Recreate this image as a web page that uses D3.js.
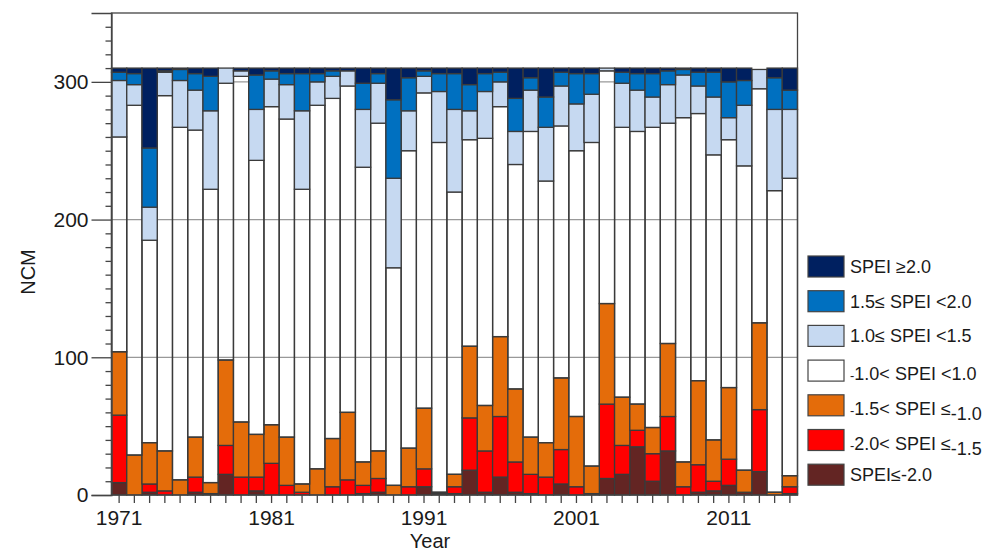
<!DOCTYPE html>
<html>
<head>
<meta charset="utf-8">
<script src="https://cdn.jsdelivr.net/npm/d3@7"></script>
<style>
  html, body { margin: 0; padding: 0; background: #fff; }
  svg { display: block; font-family: "Liberation Sans", Arial, sans-serif; }
</style>
</head>
<body>
<div id="chart"></div>
<script>
// categories
const years = [
  "1971","1972","1973","1974","1975","1976","1977","1978","1979","1980",
  "1981","1982","1983","1984","1985","1986","1987","1988","1989","1990",
  "1991","1992","1993","1994","1995","1996","1997","1998","1999","2000",
  "2001","2002","2003","2004","2005","2006","2007","2008","2009","2010",
  "2011","2012","2013","2014","2015",
];

// number of stations per SPEI class (bottom to top of the stack)
const extremeDry = [9,0,2,0,0,2,1,15,0,3, 0,0,0,0,0,0,1,2,0,0, 6,1,1,18,2,13,2,1,0,8, 0,1,12,15,35,10,32,0,2,3, 7,2,17,0,1];
const severeDry = [49,0,6,3,0,11,0,21,13,10, 23,7,2,0,6,11,6,10,0,6, 13,0,5,38,30,44,22,14,13,25, 6,0,54,21,12,20,25,6,20,7, 19,0,45,0,5];
const moderateDry = [46,29,30,29,11,29,8,62,40,31, 28,35,6,19,35,49,17,20,7,28, 44,1,9,52,33,58,53,27,25,52, 51,20,73,35,19,19,53,18,61,30, 52,16,63,2,8];
const normal = [156,254,147,258,256,223,213,201,251,199, 231,231,214,264,247,237,214,238,158,216, 229,254,205,150,194,167,163,222,190,183, 193,235,169,196,198,218,160,250,194,207, 180,221,170,219,216];
const moderateWet = [41,15,24,17,34,29,57,11,4,37, 20,25,57,17,16,11,42,29,65,29, 12,37,60,21,34,18,24,30,39,29, 34,35,2,32,30,22,28,31,20,42, 16,44,14,59,50];
const severeWet = [6,8,43,1,8,12,25,0,0,25, 6,8,27,6,4,0,19,7,57,24, 4,13,26,19,13,7,24,9,22,10, 22,15,0,8,12,17,10,4,10,18, 26,18,0,23,14];
const extremeWet = [3,4,58,2,1,4,6,0,2,5, 2,4,4,4,2,2,11,4,23,7, 2,4,4,12,4,3,22,7,21,3, 4,4,0,3,4,4,2,1,3,3, 10,9,0,7,16];

// ticks
const yTicks = [0, 100, 200, 300];
const xLabels = ["1971", "1981", "1991", "2001", "2011"];

// legend, top to bottom ("low" = small dropped minus, "sub" = subscript)
const keys = ["extremeDry", "severeDry", "moderateDry", "normal", "moderateWet", "severeWet", "extremeWet"];
const colors = {
  extremeWet: "#002060",
  severeWet: "#0070c0",
  moderateWet: "#c6d9f1",
  normal: "none",
  moderateDry: "#e46c0a",
  severeDry: "#ff0000",
  extremeDry: "#632523",
};
const legendLabels = [
  ["extremeWet", [["SPEI ≥2.0"]]],
  ["severeWet", [["1.5≤ SPEI <2.0"]]],
  ["moderateWet", [["1.0≤ SPEI <1.5"]]],
  ["normal", [["-", "low"], ["1.0< SPEI <1.0"]]],
  ["moderateDry", [["-", "low"], ["1.5< SPEI ≤"], ["-1.0", "sub"]]],
  ["severeDry", [["-", "low"], ["2.0< SPEI ≤"], ["-1.5", "sub"]]],
  ["extremeDry", [["SPEI≤-2.0"]]],
];

const width = 990;
const height = 551;
const plot = { left: 111.5, right: 797.5, top: 13, bottom: 495 };

const series = { extremeDry, severeDry, moderateDry, normal, moderateWet, severeWet, extremeWet };
const rows = years.map((year, i) => {
  const row = { year };
  keys.forEach((k) => (row[k] = series[k][i]));
  return row;
});

const svg = d3
  .select("#chart")
  .append("svg")
  .attr("width", width)
  .attr("height", height);

const x = d3.scaleBand().domain(years).range([plot.left, plot.right]).padding(0);
const y = d3.scaleLinear().domain([0, 350]).range([plot.bottom, plot.top]);

// gridlines (show through the transparent "normal" class)
svg
  .append("g")
  .selectAll("line")
  .data(yTicks.filter((d) => d > 0))
  .join("line")
  .attr("x1", plot.left)
  .attr("x2", plot.right)
  .attr("y1", (d) => y(d))
  .attr("y2", (d) => y(d))
  .attr("stroke", "#999")
  .attr("stroke-width", 1.2);

// stacked bars
const stacked = d3.stack().keys(keys)(rows);

svg
  .append("g")
  .selectAll("g")
  .data(stacked)
  .join("g")
  .attr("fill", (s) => colors[s.key])
  .selectAll("rect")
  .data((s) => s.filter((d) => d[1] - d[0] > 0))
  .join("rect")
  .attr("x", (d) => x(d.data.year))
  .attr("width", x.bandwidth())
  .attr("y", (d) => y(d[1]))
  .attr("height", (d) => y(d[0]) - y(d[1]))
  .attr("stroke", "#3a3a3a")
  .attr("stroke-width", 1.3);

// y axis, major + minor ticks
svg
  .append("g")
  .attr("transform", `translate(${plot.left},0)`)
  .call(d3.axisLeft(y).tickValues(yTicks).tickSize(20).tickPadding(3));

svg
  .append("g")
  .attr("transform", `translate(${plot.left},0)`)
  .call(
    d3
      .axisLeft(y)
      .tickValues(d3.range(10, 350, 10).filter((d) => d % 100 !== 0))
      .tickSize(6)
      .tickFormat(""),
  )
  .call((g) => g.select(".domain").remove());

// x axis, tick under every bar, label every ten years
const xAxis = svg
  .append("g")
  .attr("transform", `translate(0,${plot.bottom})`)
  .call(
    d3
      .axisBottom(x)
      .tickSize(8)
      .tickPadding(7)
      .tickFormat((d) => (xLabels.includes(d) ? d : "")),
  );

svg.selectAll(".tick line").attr("stroke", "#444").attr("stroke-width", 1.3);
svg.selectAll(".domain").attr("stroke", "#444").attr("stroke-width", 1.3);
svg
  .selectAll(".tick text")
  .attr("font-size", 21)
  .attr("font-family", "Liberation Sans, Arial, sans-serif")
  .attr("fill", "#1a1a1a");
xAxis.select(".domain").remove();

// plot frame
svg
  .append("rect")
  .attr("x", plot.left)
  .attr("y", plot.top)
  .attr("width", plot.right - plot.left)
  .attr("height", plot.bottom - plot.top)
  .attr("fill", "none")
  .attr("stroke", "#444")
  .attr("stroke-width", 1.3);

// axis titles
svg
  .append("text")
  .attr("x", 430)
  .attr("y", 548)
  .attr("text-anchor", "middle")
  .attr("font-size", 20)
  .attr("fill", "#1a1a1a")
  .text("Year");

svg
  .append("text")
  .attr("transform", "translate(35,272) rotate(-90)")
  .attr("text-anchor", "middle")
  .attr("font-size", 20)
  .attr("fill", "#1a1a1a")
  .text("NCM");

// legend
const legend = svg
  .append("g")
  .selectAll("g")
  .data(legendLabels)
  .join("g")
  .attr("transform", (d, i) => `translate(808,${256 + i * 34.7})`);

legend
  .append("rect")
  .attr("width", 36)
  .attr("height", 21)
  .attr("fill", (d) => (colors[d[0]] === "none" ? "#fff" : colors[d[0]]))
  .attr("stroke", "#444")
  .attr("stroke-width", 1.2);

const label = legend
  .append("text")
  .attr("x", 42)
  .attr("y", 17)
  .attr("font-size", 18)
  .attr("fill", "#1a1a1a");

label.each(function (d) {
  const t = d3.select(this);
  d[1].forEach(([str, style]) => {
    if (style === "low") {
      t.append("tspan").attr("font-size", 13).attr("dy", 3).text(str);
      t.append("tspan").attr("dy", -3).text("");
    } else if (style === "sub") {
      t.append("tspan").attr("dy", 5).text(str);
    } else {
      t.append("tspan").text(str);
    }
  });
});
</script>
</body>
</html>
